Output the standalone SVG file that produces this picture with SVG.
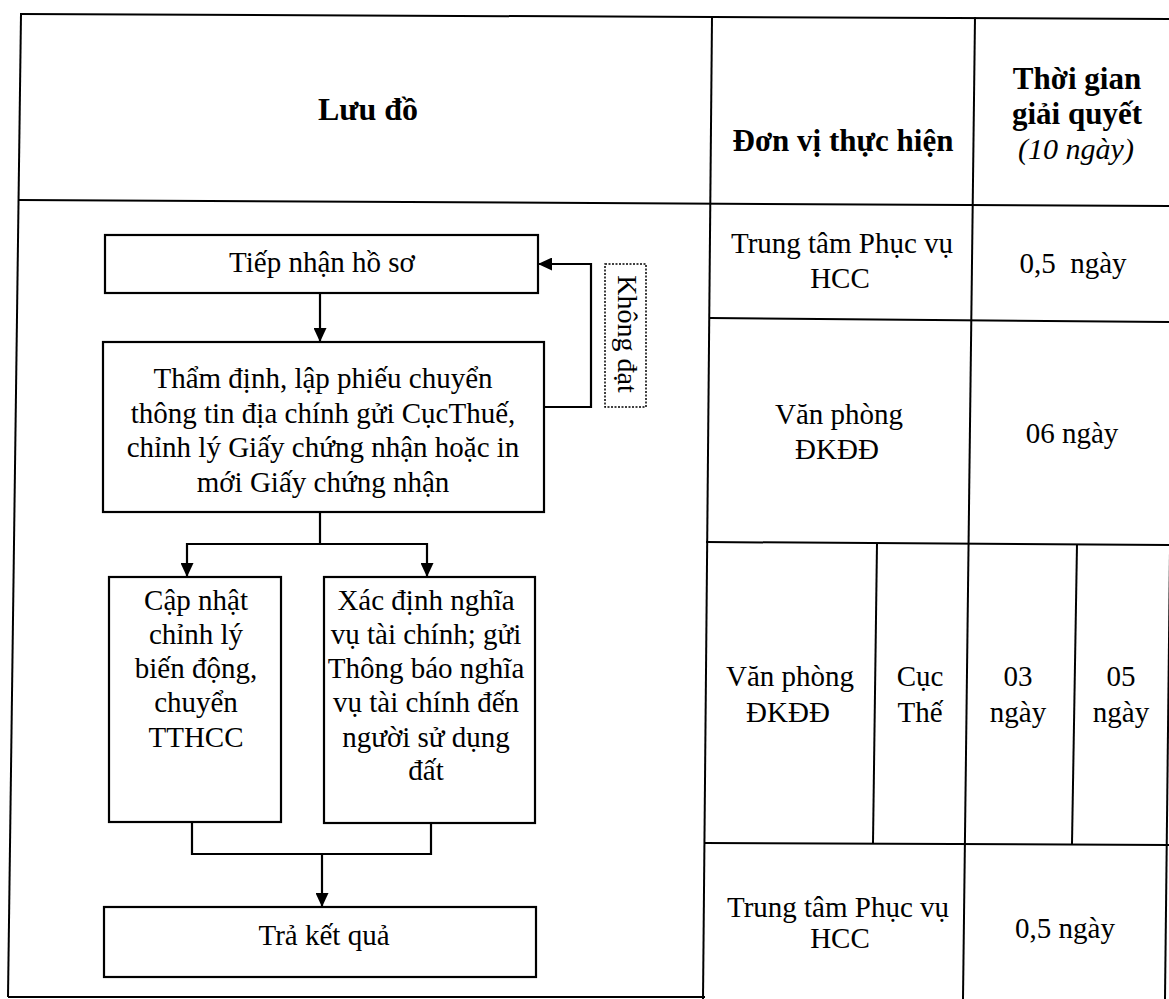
<svg xmlns="http://www.w3.org/2000/svg" width="1169" height="999" viewBox="0 0 1169 999">
<style>
.t{font-family:"Liberation Serif","Times New Roman",serif;font-size:29px;fill:#000;text-anchor:middle}
.h{font-family:"Liberation Serif","Times New Roman",serif;font-size:31px;font-weight:bold;fill:#000;text-anchor:middle}
.i{font-family:"Liberation Serif","Times New Roman",serif;font-size:30px;font-style:italic;fill:#000;text-anchor:middle}
.box{fill:#fff;stroke:#000;stroke-width:2.2}
.ln{fill:none;stroke:#000;stroke-width:2.2}
.tb{fill:none;stroke:#000;stroke-width:2}
</style>
<defs>
<marker id="arr" viewBox="0 0 14 13" refX="14" refY="6.5" markerWidth="14" markerHeight="13" markerUnits="userSpaceOnUse" orient="auto">
<path d="M0,0 L14,6.5 L0,13 z" fill="#000"/>
</marker>
</defs>
<rect width="1169" height="999" fill="#fff"/>
<g id="table">
<line class="tb" x1="20" y1="14" x2="1169" y2="19"/>
<line class="tb" x1="19" y1="200" x2="1169" y2="206"/>
<line class="tb" x1="21" y1="14" x2="8" y2="997"/>
<line class="tb" x1="8" y1="997" x2="705" y2="997"/>
<line class="tb" x1="712" y1="17" x2="703" y2="999"/>
<line class="tb" x1="975" y1="17" x2="963" y2="999"/>
<line class="tb" x1="1176" y1="14" x2="1165" y2="999"/>
<line class="tb" x1="710" y1="318" x2="1169" y2="322"/>
<line class="tb" x1="706" y1="542" x2="1169" y2="545"/>
<line class="tb" x1="704" y1="843" x2="1169" y2="845"/>
<line class="tb" x1="877" y1="543" x2="873" y2="843"/>
<line class="tb" x1="1077" y1="544" x2="1072" y2="844"/>
</g>
<g id="header">
<text class="h" style="font-size:32px" x="368" y="120">Lưu đồ</text>
<text class="h" x="843" y="151">Đơn vị thực hiện</text>
<text class="h" x="1077" y="89">Thời gian</text>
<text class="h" x="1077" y="124">giải quyết</text>
<text class="i" x="1076" y="159">(10 ngày)</text>
</g>
<g id="cells">
<text class="t" x="842" y="253">Trung tâm Phục vụ</text>
<text class="t" x="840" y="288">HCC</text>
<text class="t" x="1073" y="273" xml:space="preserve">0,5  ngày</text>
<text class="t" x="839" y="424">Văn phòng</text>
<text class="t" x="837" y="459">ĐKĐĐ</text>
<text class="t" x="1072" y="443">06 ngày</text>
<text class="t" x="790" y="686">Văn phòng</text>
<text class="t" x="788" y="722">ĐKĐĐ</text>
<text class="t" x="920" y="686">Cục</text>
<text class="t" x="920" y="722">Thế</text>
<text class="t" x="1018" y="686">03</text>
<text class="t" x="1018" y="722">ngày</text>
<text class="t" x="1121" y="686">05</text>
<text class="t" x="1121" y="722">ngày</text>
<text class="t" x="838" y="917">Trung tâm Phục vụ</text>
<text class="t" x="840" y="948">HCC</text>
<text class="t" x="1065" y="938">0,5 ngày</text>
</g>
<g id="connectors">
<path class="ln" d="M320,293 L320,342" marker-end="url(#arr)"/>
<path class="ln" d="M544,407 L591,407 L591,264 L538,264" marker-end="url(#arr)"/>
<path class="ln" d="M320,512 L320,544 M187,544 L428,544"/>
<path class="ln" d="M187,543 L187,577" marker-end="url(#arr)"/>
<path class="ln" d="M427,543 L427,577" marker-end="url(#arr)"/>
<path class="ln" d="M192,822 L192,854 L431,854 L431,823"/>
<path class="ln" d="M322,854 L322,907" marker-end="url(#arr)"/>
</g>
<g id="n1">
<rect class="box" x="105" y="235" width="433" height="58"/>
<text class="t" x="322" y="272">Tiếp nhận hồ sơ</text>
</g>
<g id="n2">
<rect class="box" x="103" y="342" width="441" height="170"/>
<text class="t" x="323" y="388">Thẩm định, lập phiếu chuyển</text>
<text class="t" x="323" y="423">thông tin địa chính gửi CụcThuế,</text>
<text class="t" x="323" y="457">chỉnh lý Giấy chứng nhận hoặc in</text>
<text class="t" x="323" y="492">mới Giấy chứng nhận</text>
</g>
<g id="n3">
<rect class="box" x="109" y="577" width="172" height="245"/>
<text class="t" x="196" y="610">Cập nhật</text>
<text class="t" x="196" y="644">chỉnh lý</text>
<text class="t" x="196" y="678">biến động,</text>
<text class="t" x="196" y="712">chuyển</text>
<text class="t" x="196" y="747">TTHCC</text>
</g>
<g id="n4">
<rect class="box" x="324" y="577" width="211" height="246"/>
<text class="t" x="426" y="610">Xác định nghĩa</text>
<text class="t" x="426" y="644">vụ tài chính; gửi</text>
<text class="t" x="426" y="678">Thông báo nghĩa</text>
<text class="t" x="426" y="712">vụ tài chính đến</text>
<text class="t" x="426" y="747">người sử dụng</text>
<text class="t" x="426" y="780">đất</text>
</g>
<g id="n5">
<rect class="box" x="104" y="907" width="432" height="70"/>
<text class="t" x="324" y="945">Trả kết quả</text>
</g>
<g id="label">
<rect x="605" y="264" width="41" height="143" fill="#fff" stroke="#000" stroke-width="1.5" stroke-dasharray="2,1.5"/>
<text class="t" style="font-size:28px" transform="translate(618,334) rotate(90)">Không đạt</text>
</g>
</svg>
